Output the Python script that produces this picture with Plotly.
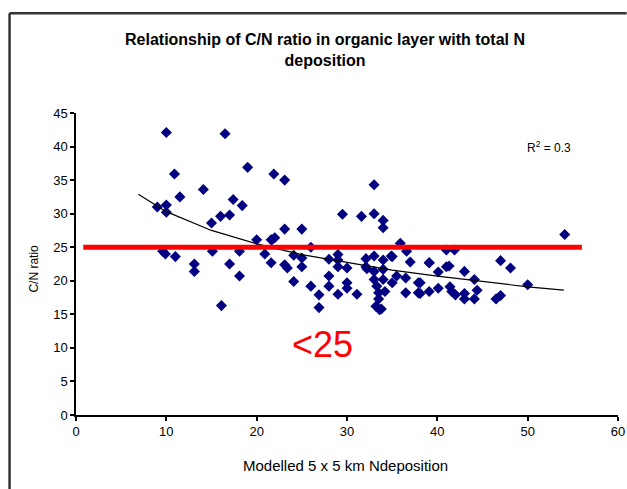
import plotly.graph_objects as go

# Modelled 5 x 5 km N deposition (x) and C/N ratio of the organic layer (y)
n_deposition = [
    10.0, 16.5, 19.0, 10.9, 11.5, 14.1, 9.0, 10.0, 10.0, 15.0, 16.0, 17.0, 17.4, 18.4, 21.9,
    23.1, 33.0, 29.5, 31.6, 33.0, 34.0, 34.0, 23.1, 25.0, 20.0, 21.7, 22.0, 26.0, 35.9, 36.6,
    41.0, 20.9, 21.6, 23.1, 24.1, 25.0, 28.0, 29.0, 33.0, 34.9, 37.0, 39.1, 41.3,
    9.6, 9.9, 11.0, 13.1, 13.1, 15.1, 17.0, 18.1, 16.1, 18.1,
    23.4, 25.0, 24.1, 26.0, 26.9, 26.9, 28.0, 28.0, 29.0, 29.0, 30.0, 30.0, 30.0, 31.1,
    32.1, 32.2, 33.0, 33.3, 33.5, 33.5, 33.2, 33.6, 34.0, 34.0, 34.0, 34.2, 35.0, 35.0,
    35.5, 36.5, 36.5, 37.9, 37.9, 33.0, 32.1, 33.8, 29.0,
    54.1, 41.9, 39.1, 40.1, 41.0, 43.0, 47.0, 48.1, 38.1, 38.1, 39.1, 40.1, 41.4, 41.6,
    42.0, 43.0, 43.0, 44.1, 44.1, 44.4, 46.5, 47.0, 50.0, 21.6,
]
cn_ratio = [
    42.1, 41.9, 36.9, 35.9, 32.5, 33.6, 31.0, 31.3, 30.2, 28.6, 29.6, 29.8, 32.1, 31.2, 35.9,
    35.0, 34.3, 29.9, 29.6, 30.0, 29.0, 27.9, 27.7, 27.7, 26.1, 26.1, 26.4, 25.0, 25.6, 24.4,
    24.6, 24.0, 22.7, 22.4, 23.8, 23.4, 23.2, 23.9, 23.7, 23.7, 22.8, 22.7, 22.2,
    24.4, 24.0, 23.6, 22.5, 21.4, 24.4, 22.5, 20.7, 16.3, 24.4,
    21.9, 22.1, 19.9, 19.2, 17.9, 16.0, 20.7, 19.2, 22.1, 18.0, 21.9, 19.7, 18.9, 18.0,
    22.1, 21.8, 21.4, 19.2, 18.2, 17.3, 16.2, 15.7, 23.1, 21.7, 20.2, 18.4, 23.6, 19.7,
    20.7, 20.4, 18.2, 19.7, 18.2, 20.2, 23.3, 15.8, 23.1,
    26.9, 24.6, 22.7, 21.3, 22.1, 21.4, 23.0, 21.9, 19.7, 18.1, 18.4, 18.9, 19.1, 18.4,
    17.9, 18.1, 17.3, 20.2, 17.3, 18.6, 17.3, 17.8, 19.4, 26.1,
]

# Logarithmic trend line sampled along the deposition range
trend_x = [6.9, 10, 15, 20, 25, 30, 35, 40, 45, 50, 54]
trend_y = [32.9, 30.3, 27.5, 25.5, 23.9, 22.7, 21.6, 20.7, 19.9, 19.1, 18.6]

# C/N = 25 threshold
threshold_x = [0.8, 56.0]
threshold_y = [25, 25]

x_ticks = [0, 10, 20, 30, 40, 50, 60]
y_ticks = [0, 5, 10, 15, 20, 25, 30, 35, 40, 45]

FONT = "Liberation Sans, Arial, sans-serif"

fig = go.Figure()
fig.add_trace(go.Scatter(
    x=n_deposition, y=cn_ratio, mode="markers",
    marker=dict(symbol="diamond", size=8.5, color="#000080", line=dict(width=0)),
    showlegend=False, hoverinfo="x+y",
))
fig.add_trace(go.Scatter(
    x=trend_x, y=trend_y, mode="lines",
    line=dict(color="black", width=1.2), showlegend=False, hoverinfo="skip",
))
fig.add_trace(go.Scatter(
    x=threshold_x, y=threshold_y, mode="lines",
    line=dict(color="#ff0000", width=5), showlegend=False, hoverinfo="skip",
))

fig.add_annotation(
    x=52.4, y=40.0, xref="x", yref="y", showarrow=False,
    xanchor="center", yanchor="middle",
    text="R<sup>2</sup> = 0.3", font=dict(family=FONT, size=12, color="black"),
)
fig.add_annotation(
    x=27.3, y=10.5, xref="x", yref="y", showarrow=False,
    xanchor="center", yanchor="middle",
    text="<25", font=dict(family=FONT, size=36, color="#ff0000"),
)
fig.add_annotation(
    x=-0.078, y=0.484, xref="paper", yref="paper", showarrow=False, textangle=-90,
    xanchor="center", yanchor="middle",
    text="C/N ratio", font=dict(family=FONT, size=12, color="black"),
)
fig.add_annotation(
    x=0.497, y=-0.167, xref="paper", yref="paper", showarrow=False,
    xanchor="center", yanchor="middle",
    text="Modelled 5 x 5 km Ndeposition", font=dict(family=FONT, size=15, color="black"),
)
fig.add_annotation(
    x=0.46, y=1.208, xref="paper", yref="paper", showarrow=False,
    xanchor="center", yanchor="middle",
    text="<b>Relationship of C/N ratio in organic layer with total N</b><br><b>deposition</b>",
    font=dict(family=FONT, size=16, color="black"),
)

# outer chart frame: top and left edges
frame_style = dict(color="#333333", width=2.5)
fig.add_shape(type="line", xref="paper", yref="paper", layer="above",
              x0=-0.1226, y0=1.33, x1=1.016, y1=1.33, line=frame_style)
fig.add_shape(type="line", xref="paper", yref="paper", layer="above",
              x0=-0.1226, y0=-0.25, x1=-0.1226, y1=1.33, line=frame_style)

axis_common = dict(
    showline=True, linecolor="black", linewidth=1.5,
    ticks="outside", ticklen=4, tickcolor="black", tickwidth=1.5,
    showgrid=False, zeroline=False, mirror=False, automargin=False,
    tickfont=dict(family=FONT, size=13, color="black"),
)
fig.update_xaxes(range=[0, 60], tickvals=x_ticks, **axis_common)
fig.update_yaxes(range=[0, 45], tickvals=y_ticks, **axis_common)

fig.update_layout(
    width=627, height=489,
    margin=dict(l=75.5, r=9, t=113, b=73.5),
    paper_bgcolor="white", plot_bgcolor="white",
    showlegend=False,
)

fig.write_html("out.html", config={"displayModeBar": False})
